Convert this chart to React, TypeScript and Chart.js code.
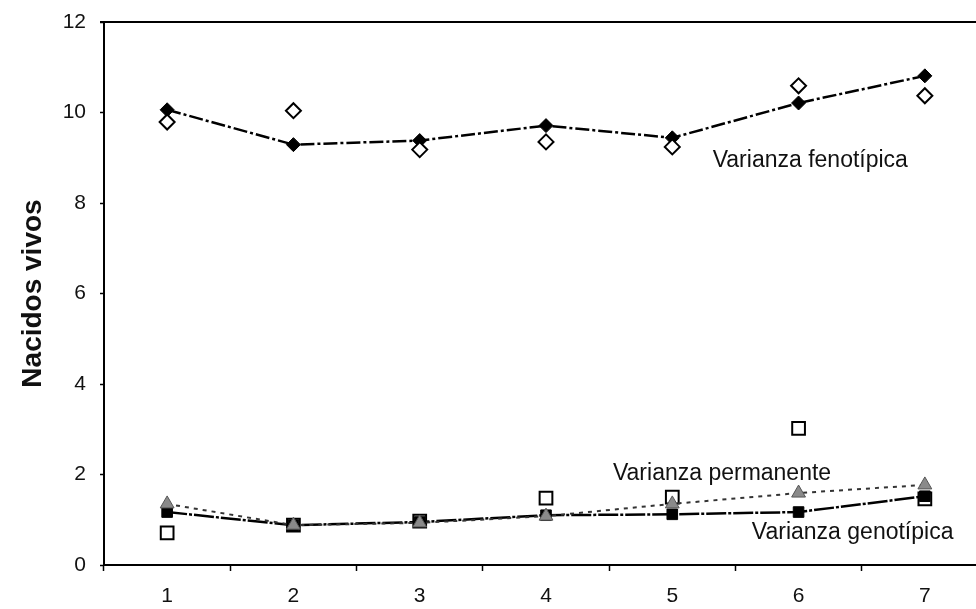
import React, { useEffect, useRef } from "react";
import { Chart, registerables } from "chart.js";

Chart.register(...registerables);

const categories = ["1", "2", "3", "4", "5", "6", "7"];
const fenotipicaFit = [10.06, 9.29, 9.38, 9.71, 9.44, 10.21, 10.81];
const fenotipicaObs = [9.79, 10.04, 9.18, 9.35, 9.24, 10.59, 10.37];
const genotipicaFit = [1.17, 0.88, 0.95, 1.1, 1.12, 1.17, 1.52];
const genotipicaObs = [0.71, 0.88, 0.97, 1.48, 1.5, 3.02, 1.46];
const permanente = [1.35, 0.88, 0.93, 1.08, 1.35, 1.59, 1.77];
const yTicks = [0, 2, 4, 6, 8, 10, 12];
const annotations = [
  { text: "Varianza fenotípica", x: 4.32, y: 8.93 },
  { text: "Varianza permanente", x: 3.53, y: 2.01 },
  { text: "Varianza genotípica", x: 4.63, y: 0.71 },
];

const FONT = "'Liberation Sans', Arial, sans-serif";

const decorPlugin = {
  id: "decor",
  afterDraw(chart: any) {
    const { ctx, chartArea, scales } = chart;
    ctx.save();
    ctx.strokeStyle = "#000";
    ctx.lineWidth = 2;
    ctx.beginPath();
    ctx.moveTo(chartArea.left - 4, chartArea.top);
    ctx.lineTo(chartArea.right, chartArea.top);
    ctx.stroke();
    ctx.fillStyle = "#111";
    ctx.font = `23px ${FONT}`;
    ctx.textAlign = "left";
    ctx.textBaseline = "middle";
    for (const a of annotations) {
      const px = scales.x.getPixelForValue(a.x);
      const py = scales.y.getPixelForValue(a.y);
      ctx.fillText(a.text, px, py);
    }
    ctx.restore();
  },
};

export default function App() {
  const ref = useRef<HTMLCanvasElement | null>(null);
  useEffect(() => {
    if (!ref.current) return;
    const chart = new Chart(ref.current, {
      type: "line",
      data: {
        labels: categories,
        datasets: [
          {
            label: "Fenotípica obs",
            data: fenotipicaObs,
            showLine: false,
            pointStyle: "rectRot",
            pointRadius: 7.5,
            pointBackgroundColor: "#fff",
            pointBorderColor: "#000",
            pointBorderWidth: 2,
          },
          {
            label: "Fenotípica",
            data: fenotipicaFit,
            borderColor: "#000",
            borderWidth: 2.5,
            borderDash: [14, 3, 3, 3],
            pointStyle: "rectRot",
            pointRadius: 7,
            pointBackgroundColor: "#000",
            pointBorderColor: "#000",
            pointBorderWidth: 1,
          },
          {
            label: "Permanente",
            data: permanente,
            borderColor: "#333",
            borderWidth: 2,
            borderDash: [4, 5],
            pointStyle: "triangle",
            pointRadius: 8,
            pointBackgroundColor: "#8a8a8a",
            pointBorderColor: "#555",
            pointBorderWidth: 1,
          },
          {
            label: "Genotípica",
            data: genotipicaFit,
            borderColor: "#000",
            borderWidth: 2.5,
            borderDash: [20, 2, 3, 2],
            pointStyle: "rect",
            pointRadius: 7.5,
            pointBackgroundColor: "#000",
            pointBorderColor: "#000",
            pointBorderWidth: 1,
          },
          {
            label: "Genotípica obs",
            data: genotipicaObs,
            showLine: false,
            pointStyle: "rect",
            pointRadius: 9,
            pointBackgroundColor: "#fff",
            pointBorderColor: "#000",
            pointBorderWidth: 2,
          },
        ],
      },
      options: {
        responsive: false,
        animation: false,
        layout: { padding: { top: 22, right: 12, bottom: 0, left: 0 } },
        plugins: {
          legend: { display: false },
          tooltip: { enabled: false },
        },
        scales: {
          x: {
            type: "category",
            offset: true,
            grid: {
              offset: true,
              drawOnChartArea: false,
              color: "#000",
              tickLength: 6,
              tickWidth: 1.5,
            },
            border: { color: "#000", width: 2 },
            ticks: {
              color: "#111",
              padding: 13,
              font: { family: FONT, size: 21 },
              maxRotation: 0,
            },
            afterFit: (s: any) => {
              s.height = 44;
              s.paddingLeft = 0;
              s.paddingRight = 0;
              s.paddingTop = 0;
              s.paddingBottom = 0;
            },
          },
          y: {
            min: 0,
            max: 12,
            afterBuildTicks: (s: any) => {
              s.ticks = yTicks.map((v) => ({ value: v }));
            },
            grid: {
              drawOnChartArea: false,
              color: "#000",
              tickLength: 4,
              tickWidth: 1.5,
            },
            border: { color: "#000", width: 2 },
            ticks: {
              color: "#111",
              padding: 14,
              font: { family: FONT, size: 21 },
            },
            title: {
              display: true,
              text: "Nacidos vivos",
              color: "#111",
              font: { family: FONT, size: 28, weight: "bold" },
              padding: { top: 16, bottom: 0 },
            },
            afterFit: (s: any) => {
              s.width = 104;
              s.paddingTop = 0;
              s.paddingBottom = 0;
              s.paddingLeft = 0;
              s.paddingRight = 0;
            },
          },
        },
      },
      plugins: [decorPlugin],
    });
    return () => chart.destroy();
  }, []);
  return (
    <div
      style={{
        position: "fixed",
        left: 0,
        top: 0,
        width: 976,
        height: 609,
        overflow: "hidden",
        background: "#fff",
      }}
    >
      <canvas ref={ref} width={1000} height={609} style={{ display: "block" }} />
    </div>
  );
}
